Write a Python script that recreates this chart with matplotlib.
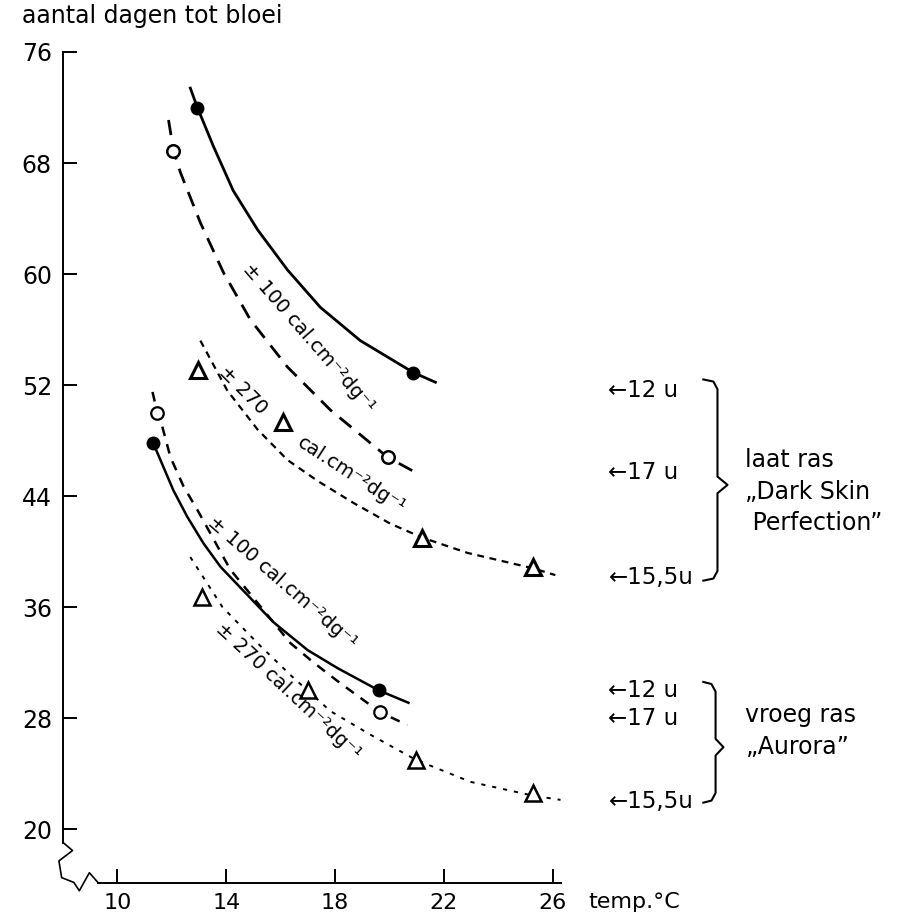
#!/usr/bin/env python3

'''Days to flowering vs temperature, late and early variety (scan redraw).'''

import matplotlib
matplotlib.use('Agg')
import matplotlib.pyplot as plt

plt.rcParams['font.family'] = 'DejaVu Sans'
plt.rcParams['lines.scale_dashes'] = False

X_TICKS = [10, 14, 18, 22, 26]
Y_TICKS = [20, 28, 36, 44, 52, 60, 68, 76]

# late variety "Dark Skin Perfection" -- samples
LATE_12U_X = [12.68, 12.94, 13.53, 14.26, 15.15, 16.25, 17.46, 18.93, 20.88, 21.69]
LATE_12U_Y = [73.4, 72.0, 69.2, 66.0, 63.2, 60.3, 57.6, 55.2, 52.9, 52.2]
LATE_12U_PTS_X = [12.94, 20.88]
LATE_12U_PTS_Y = [72.0, 52.9]

LATE_17U_X = [11.88, 12.06, 12.32, 13.05, 13.90, 14.89, 16.25, 17.83, 19.93, 20.96]
LATE_17U_Y = [71.1, 68.9, 67.3, 63.7, 60.1, 56.7, 53.3, 50.2, 46.8, 45.7]
LATE_17U_PTS_X = [12.06, 19.93]
LATE_17U_PTS_Y = [68.9, 46.8]

LATE_155U_X = [13.05, 14.04, 15.15, 16.25, 17.35, 18.68, 20.04, 21.21, 22.87, 25.26, 26.1]
LATE_155U_Y = [55.2, 51.6, 48.8, 46.6, 45.1, 43.5, 42.0, 41.0, 39.9, 38.8, 38.3]
LATE_155U_PTS_X = [12.98, 16.07, 21.2, 25.26]
LATE_155U_PTS_Y = [53.1, 49.3, 41.0, 38.9]

# early variety "Aurora"
EARLY_12U_X = [11.32, 11.69, 12.06, 12.57, 13.16, 13.79, 14.52, 15.74, 16.99, 18.09, 19.60, 20.70]
EARLY_12U_Y = [47.8, 46.1, 44.4, 42.5, 40.6, 38.9, 37.4, 34.9, 32.9, 31.6, 30.0, 29.1]
EARLY_12U_PTS_X = [11.32, 19.60]
EARLY_12U_PTS_Y = [47.8, 30.0]

EARLY_17U_X = [11.29, 11.47, 11.65, 11.95, 12.43, 12.94, 13.42, 14.15, 16.36, 17.21, 18.2, 19.67, 20.66]
EARLY_17U_Y = [51.5, 50.0, 49.0, 46.8, 44.7, 43.0, 41.3, 38.7, 33.4, 32.0, 30.5, 28.4, 27.5]
EARLY_17U_PTS_X = [11.47, 19.67]
EARLY_17U_PTS_Y = [50.0, 28.4]

EARLY_155U_X = [12.68, 13.86, 15.15, 16.36, 17.83, 19.30, 20.96, 22.98, 25.29, 26.29]
EARLY_155U_Y = [39.6, 36.0, 33.4, 31.1, 28.5, 26.8, 25.0, 23.4, 22.4, 22.1]
EARLY_155U_PTS_X = [13.1, 17.02, 20.96, 25.29]
EARLY_155U_PTS_Y = [36.7, 30.0, 25.0, 22.6]

# day-length labels at the right
DAYLEN_LABELS = ['\u219012 u', '\u219017 u', '\u219015,5u']
LATE_LABEL_Y = [51.6, 45.7, 38.1]
EARLY_LABEL_Y = [30.0, 28.0, 21.95]

LATE_NAME = 'laat ras\n\u201eDark Skin\n Perfection\u201d'
EARLY_NAME = 'vroeg ras\n\u201eAurora\u201d'

X_LABEL = 'temp.\u00b0C'
Y_LABEL = 'aantal dagen tot bloei'
CAL_100 = '\u00b1 100 cal.cm\u207b\u00b2dg\u207b\u00b9'
CAL_270 = 'cal.cm\u207b\u00b2dg\u207b\u00b9'


def draw_brace(axis, x_tail, x_line, x_tip, y_top, y_mid, y_bot):
    '''Draw a right-pointing curly brace.'''
    xs = [x_tail, x_line - 0.15, x_line, x_line, x_tip,
          x_line, x_line, x_line - 0.15, x_tail]
    ys = [y_top + 0.2, y_top + 0.05, y_top - 0.5, y_mid + 0.6, y_mid,
          y_mid - 0.6, y_bot + 0.5, y_bot - 0.05, y_bot - 0.2]
    axis.plot(xs, ys, '-', color='black', lw=1.5, clip_on=False)


def plot_series(axis):
    '''Curves and their markers.'''
    black = 'black'
    axis.plot(LATE_12U_X, LATE_12U_Y, '-', color=black, lw=2.0)
    axis.plot(LATE_12U_PTS_X, LATE_12U_PTS_Y, 'o', color=black, ms=9)
    axis.plot(LATE_17U_X, LATE_17U_Y, color=black, lw=2.0,
              linestyle=(0, (11, 7)))
    axis.plot(LATE_17U_PTS_X, LATE_17U_PTS_Y, 'o', ms=9, mfc='white',
              mec=black, mew=1.8)
    axis.plot(LATE_155U_X, LATE_155U_Y, color=black, lw=1.6,
              linestyle=(0, (5, 4)))
    axis.plot(LATE_155U_PTS_X, LATE_155U_PTS_Y, '^', ms=12, mfc='white',
              mec=black, mew=2.2)

    axis.plot(EARLY_12U_X, EARLY_12U_Y, '-', color=black, lw=1.8)
    axis.plot(EARLY_12U_PTS_X, EARLY_12U_PTS_Y, 'o', color=black, ms=9)
    axis.plot(EARLY_17U_X, EARLY_17U_Y, color=black, lw=1.8,
              linestyle=(0, (7, 6)))
    axis.plot(EARLY_17U_PTS_X, EARLY_17U_PTS_Y, 'o', ms=9, mfc='white',
              mec=black, mew=1.6)
    axis.plot(EARLY_155U_X, EARLY_155U_Y, color=black, lw=1.4,
              linestyle=(0, (3, 5)))
    axis.plot(EARLY_155U_PTS_X, EARLY_155U_PTS_Y, '^', ms=12, mfc='white',
              mec=black, mew=1.8)


def format_axis(axis):
    '''Spines, ticks and the axis break.'''
    axis.set_xlim(8.0, 38.77)
    axis.set_ylim(16.11, 76)
    axis.spines['top'].set_visible(False)
    axis.spines['right'].set_visible(False)
    axis.spines['left'].set_bounds(19.0, 76)
    axis.spines['bottom'].set_bounds(9.3, 26.3)
    for spine in ('left', 'bottom'):
        axis.spines[spine].set_linewidth(1.4)
    axis.set_xticks(X_TICKS)
    axis.set_yticks(Y_TICKS)
    axis.tick_params(axis='y', direction='in', length=10, width=1.4,
                     pad=8, labelsize=17)
    axis.tick_params(axis='x', direction='in', length=10, width=1.4,
                     pad=7, labelsize=16)
    # zigzag break at the origin
    brk_x = [8.02, 8.35, 7.85, 7.95, 8.4, 8.6, 8.97, 9.3]
    brk_y = [19.0, 18.45, 17.7, 16.5, 16.15, 15.55, 16.85, 16.11]
    axis.plot(brk_x, brk_y, '-', color='black', lw=1.2, clip_on=False)


def annotate(axis):
    '''Curve labels, day-length labels, braces and variety names.'''
    axis.text(17.02, 55.4, CAL_100, rotation=-49, fontsize=14,
              ha='center', va='center', rotation_mode='anchor')
    axis.text(14.63, 51.6, '\u00b1 270', rotation=-45, fontsize=14,
              ha='center', va='center', rotation_mode='anchor')
    axis.text(18.6, 45.5, CAL_270, rotation=-33, fontsize=14,
              ha='center', va='center', rotation_mode='anchor')
    axis.text(16.07, 37.8, CAL_100, rotation=-41, fontsize=14,
              ha='center', va='center', rotation_mode='anchor')
    axis.text(16.29, 29.9, '\u00b1 270 ' + CAL_270, rotation=-43,
              fontsize=14, ha='center', va='center', rotation_mode='anchor')

    for label, y_val in zip(DAYLEN_LABELS, LATE_LABEL_Y):
        axis.text(28.05, y_val, label, fontsize=16.5, va='center', ha='left')
    for label, y_val in zip(DAYLEN_LABELS, EARLY_LABEL_Y):
        axis.text(28.05, y_val, label, fontsize=16.5, va='center', ha='left')

    draw_brace(axis, 31.54, 32.06, 32.43, 52.2, 44.8, 38.1)
    draw_brace(axis, 31.54, 31.99, 32.28, 30.4, 25.9, 22.1)

    axis.text(33.09, 44.3, LATE_NAME, fontsize=17, va='center', ha='left',
              linespacing=1.4)
    axis.text(33.09, 27.06, EARLY_NAME, fontsize=17, va='center',
              ha='left', linespacing=1.4)


def main():
    '''Build and save the figure.'''
    fig = plt.figure(figsize=(9.2, 9.19), dpi=100)
    axis = fig.add_axes([63 / 920, 1 - 883 / 919, 837 / 920, 831 / 919])
    plot_series(axis)
    format_axis(axis)
    annotate(axis)
    fig.text(22 / 920, 1 - 16 / 919, Y_LABEL, fontsize=17, va='center',
             ha='left')
    fig.text(588 / 920, 1 - 902 / 919, X_LABEL, fontsize=16, va='center',
             ha='left')
    fig.savefig('out.png', dpi=100)


if __name__ == '__main__':
    main()
